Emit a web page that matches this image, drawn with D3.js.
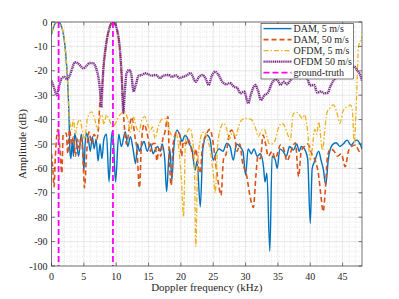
<!DOCTYPE html>
<html><head><meta charset="utf-8">
<script src="https://cdn.jsdelivr.net/npm/d3@7"></script>
<style>body{margin:0;background:#fff}svg{display:block}</style>
</head><body>
<svg id="c" width="399" height="299"></svg>
<script>
// ---- data (frequency kHz, amplitude dB) ----
const xTickValues = [0,5,10,15,20,25,30,35,40,45];
const yTickValues = [0,-10,-20,-30,-40,-50,-60,-70,-80,-90,-100];
const seriesNames = ["DAM, 5 m/s","DAM, 50 m/s","OFDM, 5 m/s","OFDM 50 m/s","ground-truth"];
const groundTruth = [1.1, 9.5];

const dam5 = [[0,-5],[0.3,-2.2],[0.6,-0.5],[1.05,0],[1.5,-1.5],[1.9,-6],[2.2,-13],[2.5,-25],[2.7,-38],[2.85,-53],
[3.0,-56],[3.2,-49],[3.4,-55],[3.6,-45.6],[3.9,-50],[4.2,-55],[4.6,-46],[4.85,-52],[5.0,-61],[5.2,-50],[5.4,-45.6],
[5.7,-48],[6.0,-53],[6.3,-47],[6.6,-52],[6.9,-48],[7.2,-57],[7.5,-50],[7.8,-56],[8.1,-48],[8.5,-46],[8.9,-65.5],
[9.2,-50],[9.4,-44.7],[9.6,-50],[9.9,-65.5],[10.4,-46],[10.8,-51],[11.4,-45],[11.8,-51],[12.2,-47],[12.6,-52],
[13.0,-58],[13.3,-50],[13.6,-53],[13.9,-51],[14.3,-49],[14.8,-53],[15.3,-50],[15.7,-54],[16.0,-52.5],[16.4,-51],
[16.8,-53],[17.1,-50],[17.5,-56],[17.8,-69.5],[18.1,-57],[18.3,-52],[18.6,-64.8],[18.9,-52],[19.4,-44.3],[19.8,-46],
[20.2,-49],[20.6,-46.5],[20.9,-47],[21.3,-50],[21.7,-52],[22.2,-60.7],[22.5,-57],[23.0,-75.7],[23.4,-52],[24.0,-46.3],
[24.5,-48],[25.0,-56.6],[25.4,-54],[25.9,-52],[26.5,-53],[27.1,-49.7],[27.6,-51],[28.1,-56.6],[28.6,-50],[29.1,-51],
[29.6,-53],[30.0,-62.7],[30.4,-52],[30.9,-54],[31.3,-52],[31.8,-55],[32.3,-54],[32.8,-60],[33.0,-65.5],[33.3,-62],
[33.75,-94],[34.1,-55],[34.6,-56.6],[34.9,-60],[35.3,-52],[35.8,-53],[36.3,-55],[36.8,-51],[37.4,-52.5],[37.9,-50],
[38.3,-53],[38.6,-51],[39.1,-52],[39.6,-56],[40.0,-82.5],[40.3,-60],[40.7,-57],[41.3,-53],[41.7,-57],[42.0,-60],
[42.4,-66.8],[42.8,-56],[43.4,-50.4],[44.0,-49.5],[44.6,-51],[45.1,-50],[45.7,-48.4],[46.3,-50.5],[46.8,-49],
[47.2,-48.4],[47.7,-50],[48,-52]];

const dam50 = [[0,-54],[0.2,-60],[0.4,-67.5],[0.6,-55],[1.0,-44],[1.3,-52],[1.6,-62],[1.8,-46],[2.3,-45.6],[2.5,-54],
[2.8,-44],[3.1,-50],[3.4,-47],[3.7,-55],[4.0,-48],[4.3,-52],[4.6,-47],[4.9,-58],[5.1,-68],[5.4,-55],[5.8,-45],[6.2,-50],
[6.6,-46],[7.0,-48],[7.3,-42],[7.5,-32],[7.7,-30],[8.0,-20],[8.4,-10],[8.8,-4],[9.2,-0.8],[9.5,0],[9.8,-0.8],[10.2,-4],
[10.6,-12],[10.9,-25],[11.1,-36],[11.3,-44],[11.6,-50],[12.0,-44],[12.4,-39],[12.9,-47],[13.2,-52],[13.6,-68],[13.9,-50],
[14.3,-42],[14.9,-47],[15.3,-53],[15.6,-50],[16.0,-49.7],[16.3,-57],[16.6,-52],[16.9,-55],[17.2,-48],[17.5,-45.6],
[18.0,-38.8],[18.2,-55],[18.5,-67],[18.8,-50],[19.4,-45],[19.8,-46],[20.1,-55],[20.4,-49],[20.8,-50],[21.1,-48],
[21.7,-53],[22.0,-56],[22.3,-52],[22.6,-57],[23.0,-62],[23.3,-52],[24.0,-45.6],[24.5,-44],[24.9,-48],[25.2,-54],
[25.8,-66],[26.2,-71],[26.6,-56],[27.0,-54],[27.4,-47],[27.8,-44.3],[28.3,-47],[28.7,-53],[29.1,-50],[29.5,-57],
[30.2,-63.4],[30.7,-71.6],[31.2,-76],[31.6,-63],[31.9,-55],[32.3,-56],[32.7,-46.3],[33.1,-50],[33.5,-55],[34.1,-53],
[34.6,-56],[35.4,-50.4],[35.9,-52],[36.4,-57],[36.9,-54],[37.4,-50.4],[37.7,-49.5],[38.2,-63.4],[38.6,-53],[39.1,-51],
[39.6,-50],[40.3,-54.5],[40.8,-57],[41.3,-63],[41.6,-70],[42.0,-77.7],[42.3,-70],[42.7,-54.5],[43.2,-52],[43.7,-53],
[44.2,-55],[44.8,-54],[45.4,-59.3],[45.9,-53],[46.4,-51],[47.0,-50.4],[47.6,-53],[48,-52]];

const ofdm5 = [[0,-4.6],[0.3,-2],[0.6,-0.5],[1.05,0],[1.5,-1.5],[1.9,-6],[2.2,-13],[2.5,-25],[2.7,-37.4],[2.9,-42],
[3.1,-44],[3.4,-40],[3.7,-46],[4.0,-42],[4.4,-40],[4.8,-45],[5.1,-48],[5.6,-39],[6.2,-36.8],[6.7,-40],[7.1,-44],
[7.5,-39],[7.8,-38],[8.1,-42],[8.5,-38],[8.9,-40],[9.5,-43],[10.0,-41],[10.6,-38],[11.3,-36.8],[11.8,-40],[12.2,-45],
[12.7,-39],[13.1,-43],[13.5,-45],[14.0,-40],[14.4,-38.8],[14.9,-42],[15.2,-45],[15.6,-43],[16.0,-47.7],[16.5,-43],
[17.0,-40],[17.5,-39.5],[17.9,-41],[18.3,-45],[18.8,-47],[19.3,-46],[19.8,-55],[20.1,-65],[20.4,-79.8],[20.7,-50],
[20.9,-45.6],[21.4,-43.6],[21.8,-48],[22.1,-60],[22.3,-92],[22.6,-58],[22.9,-50],[23.2,-46],[23.6,-45],[24.0,-47],
[24.5,-52],[25.0,-62],[25.3,-70],[25.7,-50],[26.2,-43],[26.6,-41.5],[27.0,-43],[27.5,-48],[28.0,-45],[28.5,-47],
[28.8,-44],[29.3,-40.5],[29.8,-39.5],[30.3,-39.5],[30.9,-40],[31.5,-43],[32.0,-47],[32.5,-44.3],[32.9,-44],[33.3,-47],
[33.6,-49.7],[34.0,-50],[34.5,-49],[35.0,-44],[35.6,-41.5],[36.0,-42.5],[36.5,-46],[36.9,-48.4],[37.4,-37.5],[37.9,-37],
[38.3,-38],[38.8,-39.5],[39.1,-38],[39.6,-45],[40.0,-56.6],[40.3,-52],[40.7,-44],[41.0,-46],[41.3,-41],[41.9,-52.5],
[42.2,-46],[42.6,-37],[43.0,-35.5],[43.6,-34],[44.1,-37],[44.6,-41.5],[45.0,-37],[45.5,-35],[45.9,-34.5],[46.2,-34],
[46.5,-36],[46.8,-49.7],[47.1,-35],[47.5,-9.4],[47.8,-8],[48,-6]];

const ofdm50 = [[0,-24],[0.4,-27],[0.8,-30],[1.2,-26],[1.6,-23],[2.0,-22.5],[2.4,-23.5],[2.8,-22],[3.2,-19],[3.6,-16.5],
[4.0,-16.8],[4.5,-18],[4.9,-19],[5.4,-18],[5.9,-16.8],[6.5,-17],[6.9,-19],[7.2,-22],[7.5,-28],[7.7,-35],[7.8,-30],
[8.0,-20],[8.4,-10],[8.8,-4],[9.2,-0.8],[9.5,0],[9.8,-0.8],[10.2,-4],[10.6,-12],[10.9,-25],[11.1,-37],[11.3,-30],
[11.6,-21],[12.0,-19.7],[12.3,-21],[12.7,-28.5],[13.0,-26],[13.5,-22],[14.0,-21.7],[14.5,-21],[15.0,-21.5],[15.5,-22],
[16.1,-21.7],[16.8,-23],[17.3,-22],[18.1,-21.7],[18.6,-22.5],[19.2,-21.8],[19.8,-23],[20.3,-22.5],[20.8,-22],[21.5,-21],
[22.3,-24.5],[22.8,-22.5],[23.3,-21.7],[23.8,-23],[24.3,-25.8],[24.8,-22],[25.3,-20.4],[25.9,-22],[26.4,-24.5],
[27.0,-25.5],[27.6,-25],[28.2,-26.5],[28.7,-27],[29.2,-29.2],[29.8,-28.5],[30.4,-33.3],[30.9,-29],[31.5,-25.8],
[31.9,-28],[32.4,-32],[32.9,-30],[33.4,-29.2],[34.2,-24.5],[34.6,-23.5],[35.0,-24],[35.4,-25.8],[35.9,-24.5],
[36.4,-25.5],[36.9,-24],[37.5,-22],[38.0,-21],[38.5,-23],[39.0,-22],[39.5,-23],[40.0,-26],[40.6,-25.8],[41.1,-29],
[41.6,-28.5],[42.2,-29.2],[42.7,-29],[43.1,-26.5],[43.6,-24],[44.2,-22.4],[44.8,-21],[45.4,-20],[46.0,-19],[46.5,-18.5],
[46.8,-18.3],[47.3,-20],[47.6,-21],[48,-24]];

// ---- layout ----
const svg = d3.select("#c");
const L = 51.5, R = 362, T = 22, B = 266;
const x = d3.scaleLinear().domain([0,48]).range([L,R]);
const y = d3.scaleLinear().domain([-100,0]).range([B,T]);
const axisColor = "#262626";
const font = "Liberation Serif";

svg.append("rect").attr("width",399).attr("height",299).attr("fill","#fff");
svg.append("rect").attr("x",L).attr("y",T).attr("width",R-L).attr("height",B-T).attr("fill","#fff");

// minor grid
const xMinor = d3.range(0,49,1).filter(v => v%5!==0);
const yMinor = d3.range(-100,1,2).filter(v => v%10!==0);
const g = svg.append("g");
g.selectAll(".xm").data(xMinor).join("line").attr("x1",d=>x(d)).attr("x2",d=>x(d)).attr("y1",T).attr("y2",B)
  .attr("stroke","#cfcfcf").attr("stroke-width",0.5).attr("stroke-dasharray","1,1.5");
g.selectAll(".ym").data(yMinor).join("line").attr("y1",d=>y(d)).attr("y2",d=>y(d)).attr("x1",L).attr("x2",R)
  .attr("stroke","#cfcfcf").attr("stroke-width",0.5).attr("stroke-dasharray","1,1.5");
// major grid
g.selectAll(".xM").data(xTickValues).join("line").attr("x1",d=>x(d)).attr("x2",d=>x(d)).attr("y1",T).attr("y2",B)
  .attr("stroke","#dcdcdc").attr("stroke-width",0.7);
g.selectAll(".yM").data(yTickValues).join("line").attr("y1",d=>y(d)).attr("y2",d=>y(d)).attr("x1",L).attr("x2",R)
  .attr("stroke","#dcdcdc").attr("stroke-width",0.7);

// clip
svg.append("clipPath").attr("id","clip").append("rect").attr("x",L).attr("y",T).attr("width",R-L).attr("height",B-T);
const plot = svg.append("g").attr("clip-path","url(#clip)");
const line = d3.line().x(d=>x(d[0])).y(d=>y(d[1])).curve(d3.curveMonotoneX);

const styles = [
  {data: dam5, color:"#0072BD", w:1.4, dash:null},
  {data: dam50, color:"#D95319", w:1.6, dash:"5,3"},
  {data: ofdm5, color:"#EDB120", w:1.3, dash:"5,2,1.5,2"},
  {data: ofdm50, color:"#7E2F8E", w:2.4, dash:"1.3,0.6"}
];
styles.forEach(s => {
  plot.append("path").datum(s.data).attr("d",line).attr("fill","none")
    .attr("stroke",s.color).attr("stroke-width",s.w).attr("stroke-dasharray",s.dash);
});
// ground truth
plot.selectAll(".gt").data(groundTruth).join("line")
  .attr("x1",d=>x(d)).attr("x2",d=>x(d)).attr("y1",y(0)).attr("y2",y(-100))
  .attr("stroke","#FF00FF").attr("stroke-width",1.8).attr("stroke-dasharray","6,3");

// axes box + ticks
const ax = svg.append("g");
ax.append("rect").attr("x",L).attr("y",T).attr("width",R-L).attr("height",B-T)
  .attr("fill","none").attr("stroke",axisColor).attr("stroke-width",0.6);
xTickValues.forEach(v => {
  ax.append("line").attr("x1",x(v)).attr("x2",x(v)).attr("y1",B).attr("y2",B-3.5).attr("stroke",axisColor).attr("stroke-width",0.6);
  ax.append("line").attr("x1",x(v)).attr("x2",x(v)).attr("y1",T).attr("y2",T+3.5).attr("stroke",axisColor).attr("stroke-width",0.6);
});
yTickValues.forEach(v => {
  ax.append("line").attr("y1",y(v)).attr("y2",y(v)).attr("x1",L).attr("x2",L+3.5).attr("stroke",axisColor).attr("stroke-width",0.6);
  ax.append("line").attr("y1",y(v)).attr("y2",y(v)).attr("x1",R).attr("x2",R-3.5).attr("stroke",axisColor).attr("stroke-width",0.6);
});
ax.selectAll(".xl").data(xTickValues).join("text").attr("x",d=>x(d)).attr("y",B+13.5)
  .attr("text-anchor","middle").attr("font-family",font).attr("font-size",10).attr("fill",axisColor).text(d=>d);
ax.selectAll(".yl").data(yTickValues).join("text").attr("x",L-4).attr("y",d=>y(d)+3.5)
  .attr("text-anchor","end").attr("font-family",font).attr("font-size",10).attr("fill",axisColor).text(d=>d);

svg.append("text").attr("x",(L+R)/2).attr("y",291).attr("text-anchor","middle").attr("font-family",font)
  .attr("font-size",11).attr("fill",axisColor).text("Doppler frequency (kHz)");
svg.append("text").attr("transform",`translate(25.5,${(T+B)/2}) rotate(-90)`).attr("text-anchor","middle")
  .attr("font-family",font).attr("font-size",11).attr("fill",axisColor).text("Amplitude (dB)");

// legend
const lg = svg.append("g");
lg.append("rect").attr("x",261).attr("y",23.3).attr("width",92.3).attr("height",55.7)
  .attr("fill","#fff").attr("stroke",axisColor).attr("stroke-width",0.6);
const legendStyles = styles.concat([{color:"#FF00FF", w:1.8, dash:"6,3"}]);
seriesNames.forEach((n,i) => {
  const yy = 28.6 + i*11;
  const s = legendStyles[i];
  lg.append("line").attr("x1",263.5).attr("x2",291.5).attr("y1",yy).attr("y2",yy)
    .attr("stroke",s.color).attr("stroke-width",s.w).attr("stroke-dasharray",s.dash);
  lg.append("text").attr("x",293.5).attr("y",yy+3.4).attr("font-family",font).attr("font-size",10)
    .attr("fill",axisColor).text(n);
});
</script>
</body></html>
